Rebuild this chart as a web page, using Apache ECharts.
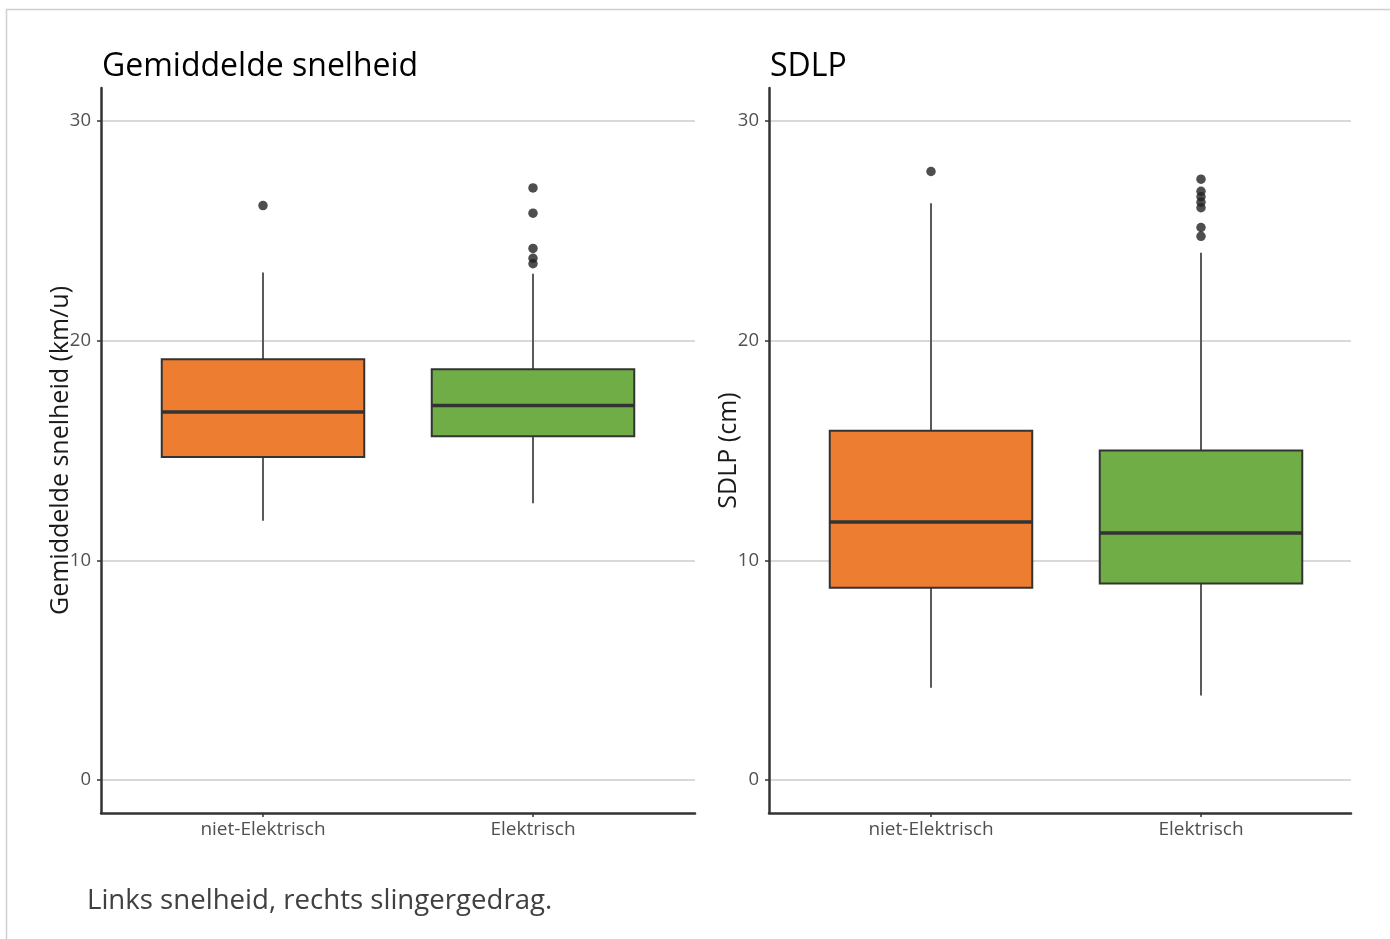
<!DOCTYPE html>
<html>
<head>
<meta charset="utf-8">
<title>Gemiddelde snelheid en SDLP</title>
<script src="https://cdn.jsdelivr.net/npm/echarts@6/dist/echarts.min.js"></script>
<style>
  html, body { margin: 0; padding: 0; background: #ffffff; }
  #chart { width: 1390px; height: 939px; }
</style>
</head>
<body>
<div id="chart"></div>
<script>
// Groups on the horizontal axis
const categories = ['niet-Elektrisch', 'Elektrisch'];

// Box statistics per group: [lower whisker, Q1, median, Q3, upper whisker]
const speedBoxes = [
  [11.8, 14.7, 16.75, 19.15, 23.1],
  [12.6, 15.65, 17.05, 18.7, 23.05]
];
const speedOutliers = [
  [26.15],
  [26.95, 25.8, 24.2, 23.75, 23.5]
];

const sdlpBoxes = [
  [4.2, 8.75, 11.75, 15.9, 26.25],
  [3.85, 8.95, 11.25, 15.0, 24.0]
];
const sdlpOutliers = [
  [27.7],
  [27.35, 26.8, 26.55, 26.3, 26.05, 25.15, 24.75]
];

// Value axis tick labels
const yTicks = [0, 10, 20, 30];

const panelTitles = ['Gemiddelde snelheid', 'SDLP'];
const yAxisNames = ['Gemiddelde snelheid (km/u)', 'SDLP (cm)'];
const caption = 'Links snelheid, rechts slingergedrag.';

const groupColors = ['#ED7D31', '#70AD47'];
const FONT = '"Open Sans", "Noto Sans", sans-serif';

// Group i sits at x = i + 1 on a numeric axis
function boxRows(boxes) {
  return boxes.map((b, i) => [i + 1].concat(b));
}
function outlierRows(outliers) {
  const rows = [];
  outliers.forEach((list, i) => list.forEach(v => rows.push([i + 1, v])));
  return rows;
}

function renderBox(params, api) {
  const x = api.value(0);
  const lo = api.coord([x, api.value(1)]);
  const q1 = api.coord([x, api.value(2)]);
  const med = api.coord([x, api.value(3)]);
  const q3 = api.coord([x, api.value(4)]);
  const hi = api.coord([x, api.value(5)]);
  const halfW = api.size([0.75, 0])[0] / 2;
  const cx = q1[0];
  const fill = groupColors[params.dataIndex % groupColors.length];
  return {
    type: 'group',
    children: [
      { type: 'line', shape: { x1: cx, y1: q3[1], x2: cx, y2: hi[1] },
        style: { stroke: '#5a5a5a', lineWidth: 2 } },
      { type: 'line', shape: { x1: cx, y1: q1[1], x2: cx, y2: lo[1] },
        style: { stroke: '#5a5a5a', lineWidth: 2 } },
      { type: 'rect', shape: { x: cx - halfW, y: q3[1], width: halfW * 2, height: q1[1] - q3[1] },
        style: { fill: fill, stroke: '#333333', lineWidth: 2 } },
      { type: 'line', shape: { x1: cx - halfW, y1: med[1], x2: cx + halfW, y2: med[1] },
        style: { stroke: '#333333', lineWidth: 3.5 } }
    ]
  };
}

function xAxisFor(gridIndex, max) {
  return {
    type: 'value', gridIndex: gridIndex, min: 0.4, max: max,
    axisLine: { show: true, onZero: false, lineStyle: { color: '#333333', width: 2.5 } },
    axisTick: { show: true, customValues: [1, 2], length: 4, lineStyle: { color: '#333333', width: 1.5 } },
    axisLabel: { customValues: [1, 2], margin: 7,
      color: '#505050', fontSize: 19, fontFamily: FONT,
      formatter: v => categories[Math.round(v) - 1] || '' },
    splitLine: { show: false }
  };
}

function yAxisFor(gridIndex, name, nameGap) {
  return {
    type: 'value', gridIndex: gridIndex, min: -1.5, max: 31.5,
    name: name, nameLocation: 'middle', nameGap: nameGap, nameMoveOverlap: false,
    nameTextStyle: { color: '#1a1a1a', fontSize: 25, fontFamily: FONT },
    axisLine: { show: true, onZero: false, lineStyle: { color: '#333333', width: 2.5 } },
    axisTick: { show: true, customValues: yTicks, length: 4, lineStyle: { color: '#333333', width: 1.5 } },
    axisLabel: { customValues: yTicks, margin: 10, color: '#505050', fontSize: 18.5, fontFamily: FONT },
    splitLine: { show: true, lineStyle: { color: '#d9d9d9', width: 2 } }
  };
}

function panelSeries(idx, boxes, outliers) {
  return [
    { type: 'custom', xAxisIndex: idx, yAxisIndex: idx, renderItem: renderBox,
      data: boxRows(boxes), z: 2, silent: true },
    { type: 'scatter', xAxisIndex: idx, yAxisIndex: idx, data: outlierRows(outliers),
      symbol: 'circle', symbolSize: 9.5, itemStyle: { color: '#222222' }, z: 3, silent: true }
  ];
}

const chart = echarts.init(document.getElementById('chart'), null, { renderer: 'canvas' });

chart.setOption({
  backgroundColor: '#ffffff',
  animation: false,
  title: [
    { text: panelTitles[0], left: 97, top: 46,
      textStyle: { color: '#000000', fontSize: 32, fontWeight: 'normal', fontFamily: FONT } },
    { text: panelTitles[1], left: 765, top: 46,
      textStyle: { color: '#000000', fontSize: 32, fontWeight: 'normal', fontFamily: FONT } }
  ],
  grid: [
    { left: 101, top: 88, width: 594, height: 725 },
    { left: 769, top: 88, width: 582, height: 725 }
  ],
  xAxis: [xAxisFor(0, 2.6), xAxisFor(1, 0.4 + 582 / 270)],
  yAxis: [yAxisFor(0, yAxisNames[0], 28), yAxisFor(1, yAxisNames[1], 28)],
  series: panelSeries(0, speedBoxes, speedOutliers).concat(panelSeries(1, sdlpBoxes, sdlpOutliers)),
  graphic: [
    { type: 'line', shape: { x1: 6, y1: 9.5, x2: 1390, y2: 9.5 },
      style: { stroke: '#cfcfcf', lineWidth: 1.5 }, silent: true },
    { type: 'line', shape: { x1: 6.5, y1: 9, x2: 6.5, y2: 939 },
      style: { stroke: '#cfcfcf', lineWidth: 1.5 }, silent: true },
    { type: 'text', left: 87, top: 887,
      style: { text: caption, fill: '#404040', fontSize: 27.6, fontFamily: FONT }, silent: true }
  ]
});
</script>
</body>
</html>
